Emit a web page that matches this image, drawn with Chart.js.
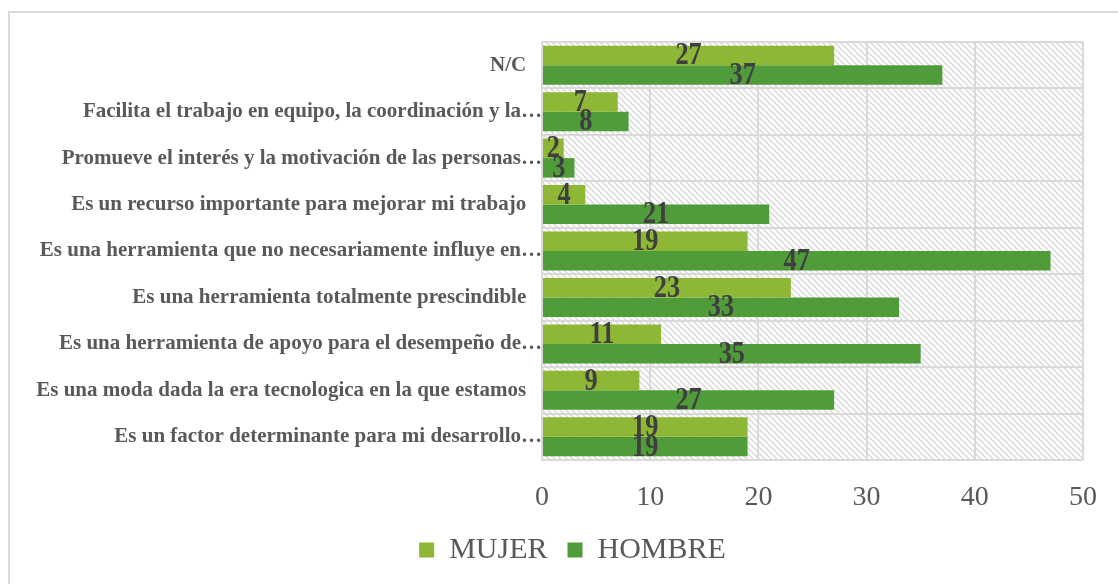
<!DOCTYPE html>
<html>
<head>
<meta charset="utf-8">
<script src="https://cdn.jsdelivr.net/npm/chart.js@4.4.1/dist/chart.umd.min.js"></script>
<style>
  html, body { margin: 0; padding: 0; background: #fff; }
  #wrap { position: relative; width: 1118px; height: 584px; overflow: hidden; }
  #marco { position: absolute; left: 8px; top: 11px; width: 1200px; height: 700px; border: 2px solid #D9D9D9; box-sizing: border-box; }
  #myChart { position: absolute; left: 0; top: 0; }
</style>
</head>
<body>
<div id="wrap">
  <div id="marco"></div>
  <canvas id="myChart" width="1118" height="584"></canvas>
</div>
<script>
// Datos
const categorias = [
  "N/C",
  "Facilita el trabajo en equipo, la coordinación y la…",
  "Promueve el interés y la motivación de las personas…",
  "Es un recurso importante para mejorar mi trabajo",
  "Es una herramienta que no necesariamente influye en…",
  "Es una herramienta totalmente prescindible",
  "Es una herramienta de apoyo para el desempeño de…",
  "Es una moda dada la era tecnologica en la que estamos",
  "Es un factor determinante para mi desarrollo…"
];
const mujer = [27, 7, 2, 4, 19, 23, 11, 9, 19];
const hombre = [37, 8, 3, 21, 47, 33, 35, 27, 19];
const ticksX = [0, 10, 20, 30, 40, 50];

const fuente = "'Liberation Serif', 'Times New Roman', serif";
const gris = "#595959";
const rejilla = "#D9D9D9";

// patron rayado del fondo
function crearRayado() {
  const c = document.createElement("canvas");
  c.width = 6;
  c.height = 6;
  const ctx = c.getContext("2d");
  ctx.strokeStyle = "#D6D6D6";
  ctx.lineWidth = 1.3;
  ctx.beginPath();
  ctx.moveTo(-1, -1);
  ctx.lineTo(7, 7);
  ctx.moveTo(-4, 2);
  ctx.lineTo(4, 10);
  ctx.moveTo(2, -4);
  ctx.lineTo(10, 4);
  ctx.stroke();
  return ctx.createPattern(c, "repeat");
}

const fondoRayado = {
  id: "fondoRayado",
  beforeDraw(chart) {
    const { ctx, chartArea } = chart;
    ctx.save();
    ctx.fillStyle = crearRayado();
    ctx.fillRect(chartArea.left, chartArea.top, chartArea.width, chartArea.height);
    ctx.restore();
  }
};

// mover la leyenda un poco a la derecha
const moverLeyenda = {
  id: "moverLeyenda",
  afterLayout(chart) {
    chart.legend.left += 31;
    chart.legend.right += 31;
  }
};

// etiquetas de valores (algo estrechas, como en el original)
const etiquetas = {
  id: "etiquetas",
  afterDatasetsDraw(chart) {
    const ctx = chart.ctx;
    chart.data.datasets.forEach((ds, i) => {
      const meta = chart.getDatasetMeta(i);
      meta.data.forEach((bar, j) => {
        const x = (bar.x + bar.base) / 2;
        ctx.save();
        ctx.translate(x, bar.y + 1);
        ctx.scale(0.85, 1);
        ctx.font = "bold 31px " + fuente;
        ctx.fillStyle = "#3F3F3F";
        ctx.textAlign = "center";
        ctx.textBaseline = "middle";
        ctx.fillText(ds.data[j], 0, 0);
        ctx.restore();
      });
    });
  }
};

new Chart(document.getElementById("myChart"), {
  type: "bar",
  data: {
    labels: categorias,
    datasets: [
      { label: "MUJER", data: mujer, backgroundColor: "#8DB734" },
      { label: "HOMBRE", data: hombre, backgroundColor: "#509C3A" }
    ]
  },
  options: {
    indexAxis: "y",
    responsive: false,
    animation: false,
    categoryPercentage: 0.84,
    barPercentage: 1.0,
    layout: { padding: { top: 42, right: 35, left: 0, bottom: 9 } },
    scales: {
      x: {
        min: 0,
        max: 50,
        afterBuildTicks: (scale) => { scale.ticks = ticksX.map(v => ({ value: v })); },
        afterFit: (scale) => { scale.height = 55; },
        grid: { color: rejilla, lineWidth: 2, drawTicks: false },
        border: { display: false },
        ticks: { color: gris, font: { family: fuente, size: 28 }, padding: 21 }
      },
      y: {
        afterFit: (scale) => { scale.width = 542; },
        grid: { color: rejilla, lineWidth: 2, drawTicks: false },
        border: { color: rejilla, width: 2 },
        ticks: {
          color: gris,
          font: { family: fuente, size: 21, weight: "bold" },
          padding: 0,
          autoSkip: false,
          // las etiquetas completas quedan separadas del eje; las cortadas llegan al borde
          callback: function (value) {
            const txt = this.getLabelForValue(value);
            return txt.endsWith("…") ? txt : txt + "   ";
          }
        }
      }
    },
    plugins: {
      legend: {
        position: "bottom",
        labels: {
          color: gris,
          font: { family: fuente, size: 30 },
          boxWidth: 15,
          boxHeight: 15,
          padding: 20
        }
      },
      tooltip: { enabled: false }
    }
  },
  plugins: [fondoRayado, moverLeyenda, etiquetas]
});
</script>
</body>
</html>
